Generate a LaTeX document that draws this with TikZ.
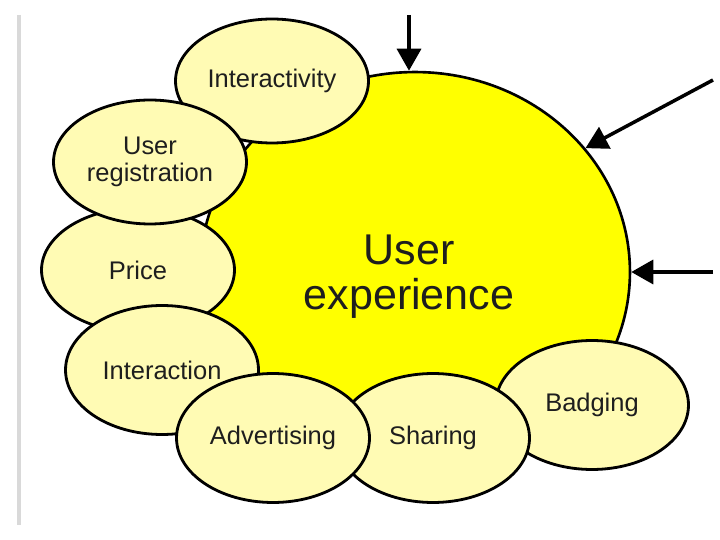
\documentclass[tikz,border=0pt]{standalone}
\usepackage{fontspec}
\setmainfont{Liberation Sans}
\usepackage{tikz}
\usetikzlibrary{arrows.meta,shapes.geometric}
\definecolor{uxyellow}{HTML}{FFFF00}
\definecolor{factorfill}{HTML}{FFFBB4}
\definecolor{ink}{HTML}{1E1E1E}
\definecolor{edgegray}{HTML}{D9D9D9}

\begin{document}
\begin{tikzpicture}[x=0.02cm,y=-0.02cm,
    core/.style={ellipse,draw=black,line width=1.5pt,fill=uxyellow,minimum width=8.6cm,minimum height=8cm,inner sep=0pt},
    corelabel/.style={align=center,text=ink,inner sep=0pt,font=\fontsize{24.5}{25.5}\selectfont},
    factor/.style={ellipse,draw=black,line width=1.6pt,fill=factorfill,inner sep=0pt,align=center,text=ink,font=\fontsize{14.5}{15.3}\selectfont,minimum width=3.86cm,minimum height=2.48cm},
    low/.style={minimum height=2.58cm},
    arrow/.style={-{Triangle[length=4.4mm,width=4.8mm]},line width=2pt,color=black}
  ]
    \useasboundingbox (0,0) rectangle (720,540);
    \draw[edgegray,line width=0.07cm] (19,15) -- (19,525);
    \node[core] (ux) at (415,272) {};
    \node[corelabel] (uxtext) at (409,277) {User\\experience};
    \node[factor] (interactivity) at (272,81) {Interactivity};
    \node[factor] (price) at (138,270) {Price};
    \node[factor] (registration) at (150,162) {User\\registration};
    \node[factor,low] (interaction) at (162,370) {Interaction};
    \node[factor,low] (badging) at (592,405) {Badging};
    \node[factor,low] (sharing) at (433,438) {Sharing};
    \node[factor,low] (advertising) at (273,438) {Advertising};
    \coordinate (topin) at (409,15);
    \coordinate (diagin) at (713,80);
    \coordinate (sidein) at (713,272);
    \draw[arrow] (topin) -- (topin |- ux.north);
    \draw[arrow] (diagin) -- (ux.36);
    \draw[arrow] (sidein) -- (sidein -| ux.east);
  \end{tikzpicture}
\end{document}
